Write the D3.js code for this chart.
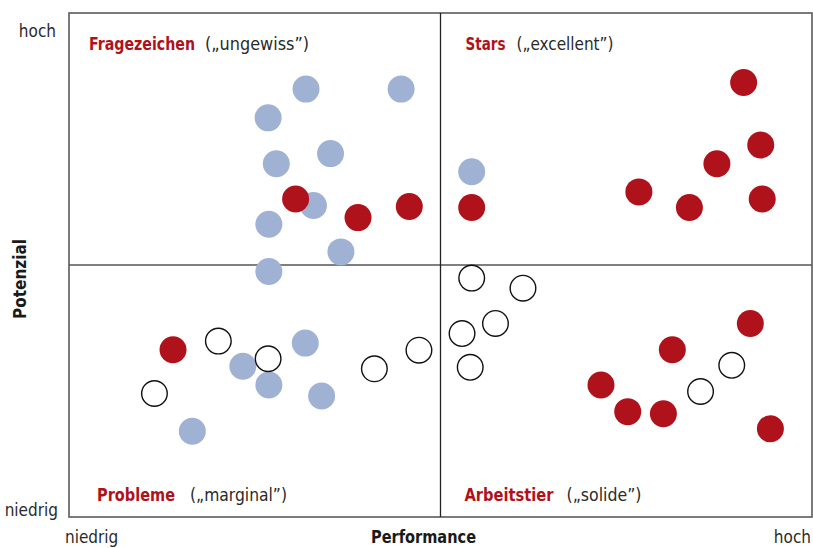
<!DOCTYPE html>
<html><head><meta charset="utf-8">
<script src="https://cdn.jsdelivr.net/npm/d3@7/dist/d3.min.js"></script>
<style>
html,body{margin:0;padding:0;background:#fff;}
svg{display:block;}
text{font-family:"Liberation Sans Narrow","DejaVu Sans Condensed","Open Sans",sans-serif;}
</style></head>
<body>
<script>
// Data (Performance x, Potenzial y, 0..100 scale)
const bluePoints = [
  [31.9,84.9],[44.7,84.9],[26.8,79.2],[27.9,70.1],[35.2,72.1],[32.9,61.8],[26.9,58.1],
  [36.6,52.6],[26.9,48.7],[54.2,68.5],[31.8,34.5],[23.4,29.9],[26.9,26.2],[34.0,24.0],[16.6,17.0]
];
const redPoints = [
  [30.5,63.1],[38.9,59.4],[45.8,61.6],[90.8,86.2],[93.1,73.8],[87.2,70.1],[76.7,64.5],
  [83.5,61.4],[93.3,63.1],[54.2,61.4],[14.0,33.2],[91.7,38.4],[81.2,33.2],[71.6,26.2],
  [75.2,20.9],[80.0,20.5],[94.4,17.5]
];
const openPoints = [
  [20.1,34.9],[26.8,31.4],[11.5,24.5],[41.1,29.4],[47.1,33.1],[54.2,47.4],[61.1,45.4],
  [57.4,38.4],[52.9,36.4],[54.0,29.7],[89.2,30.1],[85.0,24.9]
];
const quadrantNames = ["Fragezeichen","Stars","Probleme","Arbeitstier"];
const quadrantNotes = ["(„ungewiss”)","(„excellent”)","(„marginal”)","(„solide”)"];
const quadrantAnchor = [[0,100],[50,100],[0,0],[50,0]];
const axisLow = "niedrig", axisHigh = "hoch";
const xTitle = "Performance", yTitle = "Potenzial";

const W = 813, H = 548;
const svg = d3.select("body").append("svg").attr("width", W).attr("height", H);
const x = d3.scaleLinear().domain([0,100]).range([69, 812]);
const y = d3.scaleLinear().domain([0,100]).range([517, 13]);
const R = 13.5;
const RED = "#b0121b", BLUE = "#a0b2d3", TXT = "#2a2a2a";

// frame
svg.append("rect").attr("x", x(0)).attr("y", y(100))
  .attr("width", x(100)-x(0)).attr("height", y(0)-y(100))
  .attr("fill","none").attr("stroke","#5a5a5a").attr("stroke-width",1.6);
// midlines
svg.append("line").attr("x1", x(0)).attr("x2", x(100)).attr("y1", y(50)).attr("y2", y(50))
  .attr("stroke","#555").attr("stroke-width",1.4);
svg.append("line").attr("x1", x(50)).attr("x2", x(50)).attr("y1", y(100)).attr("y2", y(0))
  .attr("stroke","#222").attr("stroke-width",1.3);

// points
svg.append("g").selectAll("circle").data(bluePoints).join("circle")
  .attr("cx", d=>x(d[0])).attr("cy", d=>y(d[1])).attr("r", R).attr("fill", BLUE);
svg.append("g").selectAll("circle").data(redPoints).join("circle")
  .attr("cx", d=>x(d[0])).attr("cy", d=>y(d[1])).attr("r", R).attr("fill", RED);
svg.append("g").selectAll("circle").data(openPoints).join("circle")
  .attr("cx", d=>x(d[0])).attr("cy", d=>y(d[1])).attr("r", 12.8)
  .attr("fill", "#fff").attr("stroke", "#111").attr("stroke-width", 1.4);

// quadrant labels
const qOffX = [20, 25, 28, 24];
const qBase = [50, 50, 501, 501];
const nameLen = [106, 40, 78, 89];
const noteGap = [10, 11, 15, 13];
const noteLen = [104, 97, 97, 75];
quadrantNames.forEach((n,i)=>{
  const x0 = x(quadrantAnchor[i][0]) + qOffX[i];
  svg.append("text").attr("x", x0).attr("y", qBase[i]).attr("font-size", 18)
    .attr("font-weight","bold").attr("fill", RED)
    .attr("textLength", nameLen[i]).attr("lengthAdjust","spacingAndGlyphs").text(n);
  svg.append("text").attr("x", x0 + nameLen[i] + noteGap[i]).attr("y", qBase[i]).attr("font-size", 18)
    .attr("fill", TXT)
    .attr("textLength", noteLen[i]).attr("lengthAdjust","spacingAndGlyphs").text(quadrantNotes[i]);
});

// axis end labels
svg.append("text").attr("x", 56).attr("y", 37).attr("text-anchor","end").attr("font-size",17).attr("fill",TXT).text(axisHigh);
svg.append("text").attr("x", 58).attr("y", 516).attr("text-anchor","end").attr("font-size",17).attr("fill",TXT).text(axisLow);
svg.append("text").attr("x", 65).attr("y", 543).attr("font-size",17).attr("fill",TXT).text(axisLow);
svg.append("text").attr("x", 811).attr("y", 543).attr("text-anchor","end").attr("font-size",17).attr("fill",TXT).text(axisHigh);

// titles
svg.append("text").attr("x", 371).attr("y", 543)
  .attr("font-size",17).attr("font-weight","bold").attr("fill","#1a1a1a")
  .attr("textLength",105).attr("lengthAdjust","spacingAndGlyphs").text(xTitle);
svg.append("text").attr("transform","translate(26,279) rotate(-90)").attr("text-anchor","middle")
  .attr("font-size",17).attr("font-weight","bold").attr("fill","#1a1a1a").text(yTitle);
</script>
</body></html>
